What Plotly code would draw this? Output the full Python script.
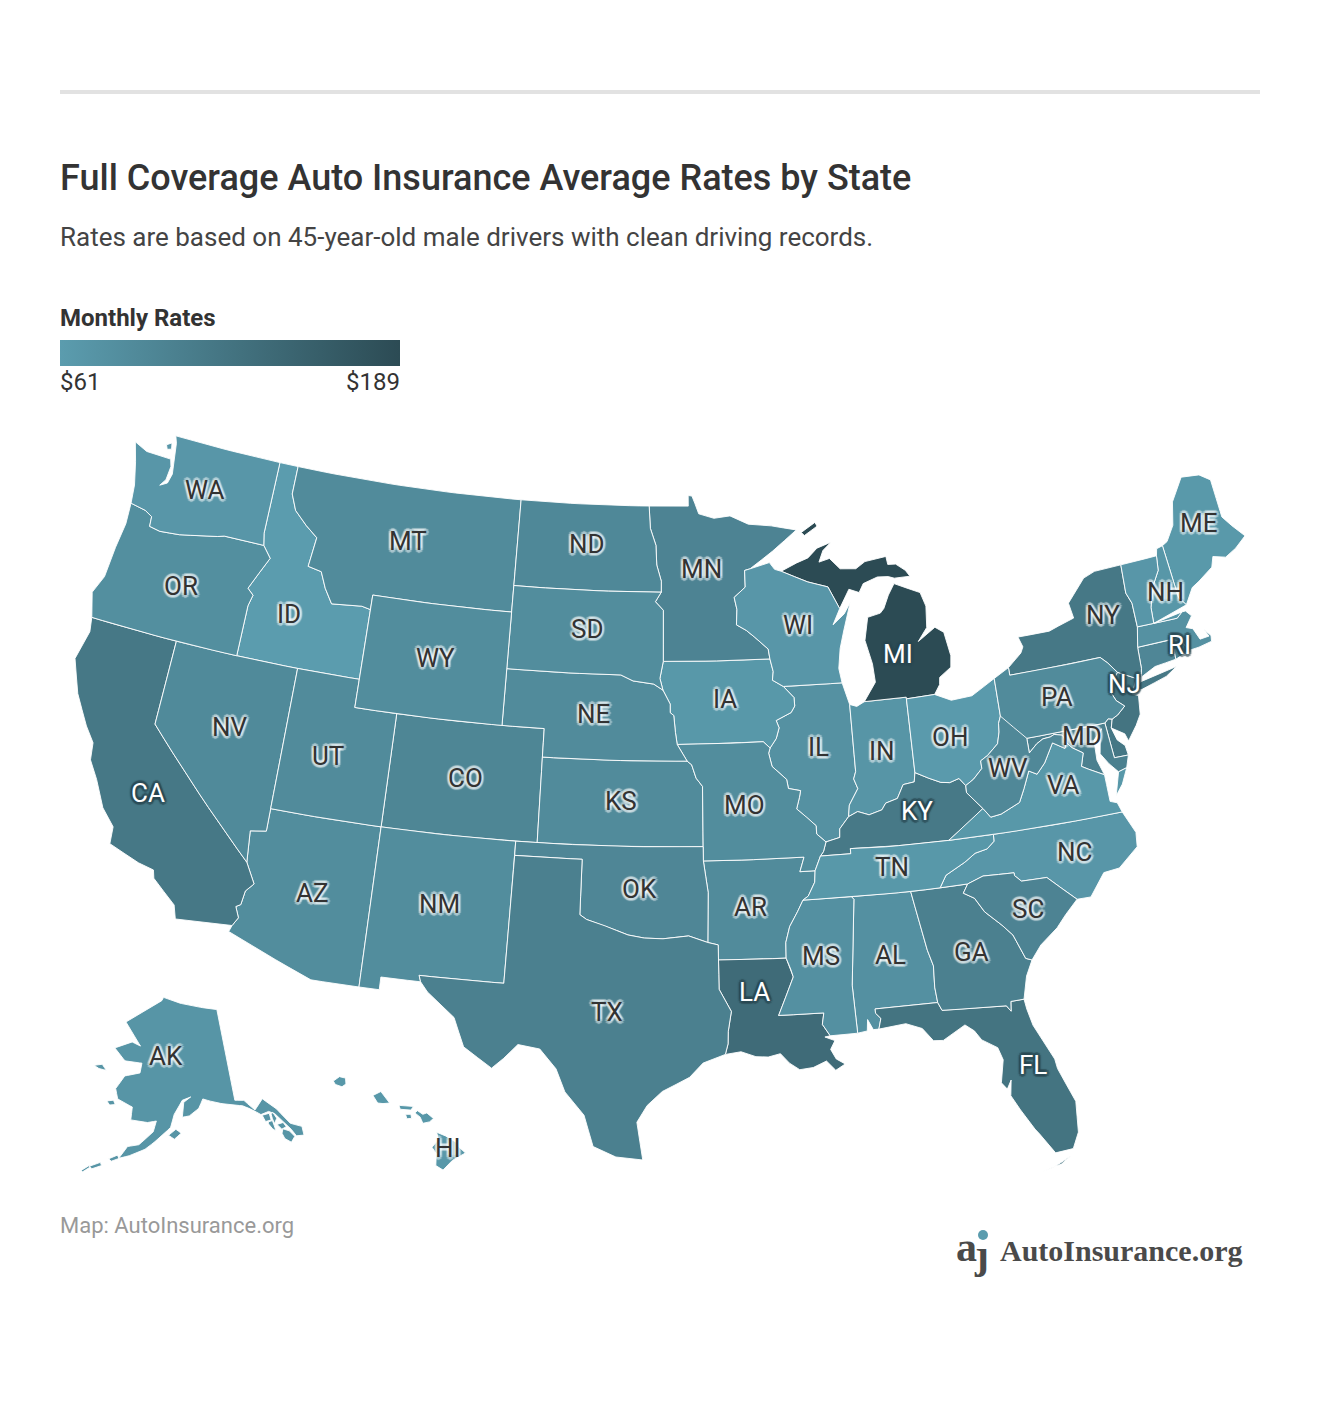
import math
import plotly.graph_objects as go

# ---------- data ----------
STATES = ["AL","AK","AZ","AR","CA","CO","CT","DE","FL","GA","HI","ID","IL","IN","IA","KS","KY","LA","ME","MD","MA","MI","MN","MS","MO","MT","NE","NV","NH","NJ","NM","NY","NC","ND","OH","OK","OR","PA","RI","SC","SD","TN","TX","UT","VT","VA","WA","WV","WI","WY"]
RATES  = [80,72,85,88,118,96,95,120,125,105,68,61,78,72,68,88,116,138,66,105,78,189,100,80,85,88,88,90,69,125,85,118,70,93,64,95,82,88,105,100,85,68,105,88,70,68,70,92,70,85]
LABEL_X = [890,166,312,750,148,465,None,None,1033,971,448,289,818,882,725,621,917,754,1198,1082,None,898,701,821,744,408,593,230,1165,1124,439,1103,1074,587,950,639,181,1057,1179,1028,587,892,607,328,None,1063,205,1008,798,435]
LABEL_Y = [955,1056,893,907,793,778,None,None,1065,952,1148,614,747,751,699,801,811,992,523,736,None,654,569,956,805,541,714,727,592,684,904,615,852,544,737,889,586,697,645,909,629,867,1012,756,None,785,490,768,625,658]
WHITE_LABELS = ["CA","KY","LA","FL","MI","NJ","RI"]
TITLE = "Full Coverage Auto Insurance Average Rates by State"
SUBTITLE = "Rates are based on 45-year-old male drivers with clean driving records."
LEGEND_TITLE = "Monthly Rates"
LEGEND_MIN = "$61"
LEGEND_MAX = "$189"
SOURCE = "Map: AutoInsurance.org"
COLOR_LOW = (91, 156, 174)
COLOR_HIGH = (44, 75, 84)
ZMIN, ZMAX = 61, 189

# ---------- estimated state outlines (lon, lat): shared border chains ----------
def rv(c): return c[::-1]
MN_WI=[(-92.01,46.71),(-92.29,46.66),(-92.29,46.07),(-92.87,45.72),(-92.75,45.29),(-92.80,44.75),(-92.32,44.54),(-91.92,44.29),(-91.28,43.85),(-91.22,43.50)]
WI_IA=[(-91.22,43.50),(-91.09,43.05),(-91.15,42.75),(-90.64,42.51)]
IA_IL=[(-90.64,42.51),(-90.16,42.10),(-90.15,41.80),(-90.34,41.58),(-91.07,41.33),(-90.95,41.07),(-91.11,40.70),(-91.42,40.38)]
MO_IL=[(-91.42,40.38),(-91.50,40.20),(-91.37,39.73),(-90.73,39.25),(-90.67,38.93),(-90.12,38.83),(-90.19,38.60),(-90.35,38.20),(-89.91,37.88),(-89.52,37.57),(-89.52,37.28),(-89.13,36.98)]
KY_MO=[(-89.13,36.98),(-89.27,36.65),(-89.42,36.50)]
TN_MO=[(-89.42,36.50),(-89.70,36.00)]
TN_AR=[(-89.70,36.00),(-89.75,35.60),(-90.07,35.13),(-90.31,35.00)]
MS_AR=[(-90.31,35.00),(-90.58,34.60),(-90.95,34.10),(-91.15,33.55),(-91.17,33.00)]
MS_LA=[(-91.17,33.00),(-91.00,32.60),(-90.91,32.33),(-91.60,31.00),(-89.73,31.00),(-89.82,30.60),(-89.53,30.18)]
OH_WV=[(-80.52,40.64),(-80.66,40.40),(-80.70,40.10),(-80.86,39.70),(-81.40,39.35),(-81.75,39.20),(-81.75,38.93),(-82.20,38.60),(-82.59,38.42)]
OH_KY=[(-82.59,38.42),(-82.85,38.70),(-83.30,38.60),(-83.70,38.65),(-84.23,38.85),(-84.82,39.10)]
IN_KY=[(-84.82,39.10),(-84.90,38.78),(-85.42,38.73),(-85.75,38.27),(-86.30,38.15),(-86.50,37.93),(-87.10,37.80),(-87.60,37.95),(-88.03,37.80)]
IL_KY=[(-88.03,37.80),(-88.47,37.40),(-88.50,37.10),(-89.13,36.98)]
WV_KY=[(-82.59,38.42),(-82.60,38.17),(-81.97,37.54)]
KY_VA=[(-81.97,37.54),(-82.72,37.12),(-83.68,36.60)]
KY_TN=[(-83.68,36.60),(-86.50,36.63),(-88.07,36.68),(-88.07,36.50),(-89.42,36.50)]
VA_TN=[(-83.68,36.60),(-81.68,36.59)]
VA_NC=[(-81.68,36.59),(-75.87,36.55)]
TN_NC=[(-81.68,36.59),(-81.70,36.35),(-82.05,36.12),(-82.60,36.03),(-83.10,35.77),(-84.00,35.40),(-84.32,34.99)]
TN_GA=[(-84.32,34.99),(-85.61,34.98)]
TN_AL=[(-85.61,34.98),(-88.20,35.00)]
TN_MS=[(-88.20,35.00),(-90.31,35.00)]
NC_GA=[(-84.32,34.99),(-83.11,35.00)]
NC_SC=[(-83.11,35.00),(-82.40,35.20),(-81.04,35.15),(-81.04,35.05),(-80.78,34.82),(-79.67,34.80),(-78.55,33.86)]
SC_GA=[(-83.11,35.00),(-83.35,34.70),(-82.90,34.47),(-82.55,33.95),(-81.90,33.40),(-81.50,33.00),(-81.12,32.12),(-80.87,32.03)]
GA_AL=[(-85.61,34.98),(-85.18,32.87),(-85.00,32.30),(-85.05,31.55),(-85.00,31.00)]
GA_FL=[(-85.00,31.00),(-84.86,30.71),(-82.21,30.57),(-82.05,30.36),(-82.00,30.70),(-81.45,30.71)]
AL_FL=[(-85.00,31.00),(-87.60,31.00),(-87.60,30.85),(-87.40,30.65),(-87.52,30.28)]
AL_MS=[(-88.20,35.00),(-88.10,34.90),(-88.47,31.90),(-88.40,30.20)]
AR_MO=[(-89.70,36.00),(-90.37,36.00),(-90.15,36.50),(-94.62,36.50)]
AR_OK=[(-94.62,36.50),(-94.43,35.39),(-94.48,33.64)]
AR_TX=[(-94.48,33.64),(-94.04,33.55),(-94.04,33.02)]
AR_LA=[(-94.04,33.02),(-91.17,33.00)]
LA_TX=[(-94.04,33.02),(-94.04,31.99),(-93.55,31.20),(-93.70,30.50),(-93.72,30.06),(-93.84,29.69)]
OK_TX=[(-94.48,33.64),(-95.30,33.88),(-96.40,33.78),(-97.20,33.80),(-97.90,33.90),(-98.90,34.20),(-99.70,34.40),(-100.00,34.56),(-100.00,36.50),(-103.00,36.50)]
OK_NM=[(-103.00,36.50),(-103.00,37.00)]
NM_TX=[(-103.00,36.50),(-103.06,32.00),(-106.62,32.00),(-106.53,31.78)]
OK_MO=[(-94.62,36.50),(-94.62,37.00)]
OK_KS=[(-94.62,37.00),(-102.04,37.00)]
OK_CO=[(-102.04,37.00),(-103.00,37.00)]
KS_MO=[(-94.62,37.00),(-94.61,39.11),(-94.90,39.40),(-95.10,39.87),(-95.31,40.00)]
NE_KS=[(-95.31,40.00),(-102.05,40.00)]
KS_CO=[(-102.05,40.00),(-102.04,37.00)]
NE_MO=[(-95.31,40.00),(-95.77,40.585)]
NE_IA=[(-95.77,40.585),(-95.85,41.00),(-95.93,41.60),(-96.10,41.70),(-96.10,42.00),(-96.45,42.49)]
MO_IA=[(-95.77,40.585),(-91.73,40.61),(-91.42,40.38)]
IA_SD=[(-96.45,42.49),(-96.60,42.90),(-96.44,43.50)]
IA_MN=[(-96.44,43.50),(-91.22,43.50)]
MN_SD=[(-96.44,43.50),(-96.45,45.30),(-96.85,45.60),(-96.56,45.94)]
MN_ND=[(-96.56,45.94),(-96.56,46.33),(-96.80,46.90),(-96.85,47.60),(-97.15,48.20),(-97.23,49.00)]
ND_SD=[(-96.56,45.94),(-104.05,45.94)]
NE_SD=[(-96.45,42.49),(-96.90,42.70),(-97.90,42.80),(-98.50,43.00),(-104.05,43.00)]
NE_CO=[(-104.05,41.00),(-102.05,41.00),(-102.05,40.00)]
WY_CO=[(-104.05,41.00),(-109.05,41.00)]
WY_UT=[(-109.05,41.00),(-111.05,41.00),(-111.05,42.00)]
CO_NM=[(-103.00,37.00),(-109.05,37.00)]
UT_AZ=[(-109.05,37.00),(-114.05,37.00)]
NV_AZ=[(-114.05,37.00),(-114.05,36.20),(-114.75,36.10),(-114.63,35.00)]
CA_AZ=[(-114.63,35.00),(-114.14,34.30),(-114.45,34.00),(-114.53,33.50),(-114.72,33.40),(-114.52,33.03),(-114.72,32.72)]
NV_CA=[(-120.00,42.00),(-120.00,39.00),(-114.63,35.00)]
OR_ID=[(-117.03,42.00),(-117.03,43.80),(-116.90,44.20),(-117.22,44.40),(-116.85,45.00),(-116.46,45.60),(-116.92,46.00)]
WA_ID=[(-116.92,46.00),(-117.04,46.42),(-117.04,49.00)]
WA_OR=[(-116.92,46.00),(-118.98,46.00),(-119.30,45.93),(-120.65,45.73),(-121.20,45.65),(-122.20,45.58),(-122.76,45.65),(-122.80,46.00),(-123.20,46.15),(-124.00,46.25)]
ID_MT=[(-116.05,49.00),(-116.05,48.00),(-115.70,47.45),(-115.00,47.00),(-114.35,46.65),(-114.50,45.60),(-113.80,45.50),(-113.45,44.95),(-113.00,44.45),(-111.50,44.55),(-111.05,44.48)]
IL_IN=[(-87.53,41.71),(-87.53,39.35),(-87.65,39.10),(-87.50,38.75),(-87.95,38.20),(-88.03,37.80)]
WV_VA=[(-81.97,37.54),(-81.68,37.20),(-81.20,37.25),(-80.30,37.55),(-80.00,38.00),(-79.65,38.58),(-79.30,38.42),(-78.87,38.76),(-78.35,39.40),(-77.83,39.13),(-77.72,39.32)]
MD_WV=[(-79.48,39.72),(-79.48,39.20),(-79.07,39.47),(-78.75,39.60),(-78.40,39.62),(-78.20,39.68),(-77.83,39.60),(-77.72,39.32)]
MD_VA=[(-77.72,39.32),(-77.50,39.10),(-77.05,38.85),(-77.25,38.40),(-76.95,38.25),(-76.30,37.95)]
DE_MD=[(-75.79,39.72),(-75.70,38.46),(-75.05,38.45)]
DE_PA=[(-75.79,39.72),(-75.60,39.84),(-75.42,39.80)]
PA_NJ=[(-75.42,39.80),(-75.13,39.90),(-74.72,40.15),(-75.05,40.40),(-75.20,40.70),(-75.10,41.00),(-74.70,41.36)]
PA_NY=[(-74.70,41.36),(-75.05,41.75),(-75.35,42.00),(-79.76,42.00),(-79.76,42.27)]
NY_CT=[(-73.66,41.00),(-73.55,41.30),(-73.49,42.05)]
NY_MA=[(-73.49,42.05),(-73.27,42.75)]
NY_VT=[(-73.27,42.75),(-73.25,43.60),(-73.43,44.00),(-73.34,45.01)]
VT_NH=[(-72.46,42.73),(-72.40,43.30),(-72.05,44.00),(-71.60,44.50),(-71.50,45.01)]
RI_MA=[(-71.80,42.02),(-71.38,42.02),(-71.33,41.78),(-71.12,41.50)]
MA_NH=[(-70.82,42.87),(-71.00,42.87),(-71.30,42.70),(-72.46,42.73)]
NH_ME=[(-70.70,43.07),(-70.98,43.40),(-71.08,45.30)]
MI_WI=[(-90.42,46.57),(-89.10,46.13),(-88.10,45.90),(-87.60,45.10)]

WA_COAST=[(-117.04,49.00),(-122.76,49.00),(-122.62,48.75),(-122.50,48.25),(-122.38,47.65),(-122.50,47.30),(-122.85,47.15),(-122.62,47.40),(-122.56,47.90),(-122.68,48.15),(-123.15,48.15),(-124.00,48.17),(-124.72,48.38),(-124.40,47.70),(-124.10,46.90),(-124.00,46.25)]
SAN_JUAN=[(-123.10,48.60),(-122.85,48.72),(-122.78,48.50),(-123.00,48.45)]
OR_COAST=[(-124.00,46.25),(-123.95,45.50),(-124.10,44.60),(-124.20,43.50),(-124.55,42.85),(-124.21,42.00)]
CA_COAST=[(-124.21,42.00),(-124.10,41.50),(-124.40,40.45),(-123.80,39.30),(-123.00,38.30),(-122.50,37.80),(-122.40,37.20),(-121.90,36.60),(-121.30,35.70),(-120.65,35.15),(-120.60,34.55),(-119.20,34.15),(-118.50,34.03),(-118.40,33.75),(-117.30,33.00),(-117.12,32.53),(-114.72,32.72)]
AZ_SOUTH=[(-114.72,32.72),(-114.81,32.49),(-111.07,31.33),(-109.05,31.33)]
NM_SOUTH=[(-109.05,31.33),(-108.20,31.33),(-108.20,31.78),(-106.53,31.78)]
TX_SOUTH=[(-106.53,31.78),(-106.20,31.45),(-105.00,30.65),(-104.50,29.65),(-103.30,28.98),(-102.85,29.35),(-102.30,29.88),(-101.40,29.77),(-100.70,29.10),(-100.30,28.30),(-99.50,27.50),(-99.10,26.40),(-98.20,26.05),(-97.15,25.96),(-97.40,27.30),(-97.00,27.90),(-96.40,28.40),(-95.30,28.90),(-94.75,29.40),(-93.84,29.69)]
LA_COAST=[(-93.84,29.69),(-93.20,29.77),(-92.60,29.58),(-92.10,29.55),(-91.60,29.65),(-91.25,29.30),(-90.85,29.05),(-90.30,29.10),(-90.05,29.20),(-89.75,29.30),(-89.40,28.95),(-89.00,29.15),(-89.35,29.35),(-89.55,29.70),(-89.35,30.00),(-89.60,30.10),(-89.75,30.15),(-89.53,30.18)]
AL_COAST=[(-88.40,30.20),(-88.00,30.25),(-87.95,30.65),(-87.75,30.28),(-87.52,30.28)]
FL_COAST=[(-87.52,30.28),(-86.40,30.38),(-85.75,30.15),(-85.35,29.68),(-84.95,29.65),(-84.35,29.95),(-84.00,30.10),(-83.65,29.85),(-83.40,29.50),(-82.80,29.15),(-82.65,28.70),(-82.85,27.90),(-82.65,27.65),(-82.45,27.95),(-82.55,27.40),(-82.25,26.85),(-82.10,26.60),(-81.80,26.10),(-81.65,25.90),(-81.15,25.15),(-80.45,25.20),(-80.15,25.75),(-80.05,26.85),(-80.55,28.10),(-80.60,28.45),(-81.25,29.75),(-81.40,30.35),(-81.45,30.71)]
FL_KEYS=[(-81.80,24.55),(-81.30,24.65),(-80.60,24.95),(-81.00,24.72)]
GA_COAST=[(-81.45,30.71),(-81.20,31.50),(-80.87,32.03)]
SC_COAST=[(-80.87,32.03),(-80.40,32.50),(-79.60,33.00),(-79.15,33.40),(-78.55,33.86)]
NC_COAST=[(-78.55,33.86),(-77.95,33.85),(-77.20,34.60),(-76.50,34.65),(-75.55,35.25),(-75.47,35.75),(-75.87,36.55)]
VA_COAST=[(-75.87,36.55),(-76.00,36.90),(-76.30,37.00),(-76.30,37.60),(-76.30,37.95)]
VA_SHORE=[(-75.98,37.15),(-75.65,37.95),(-75.25,38.03),(-75.60,37.50)]
MD_BAY=[(-75.05,38.45),(-75.25,38.03),(-75.65,37.95),(-76.00,38.30),(-76.30,38.70),(-76.10,39.40),(-76.00,39.55),(-76.45,39.20),(-76.50,38.50),(-76.40,38.20),(-76.30,37.95)]
DE_COAST=[(-75.42,39.80),(-75.55,39.50),(-75.40,39.05),(-75.10,38.80),(-75.05,38.45)]
NJ_COAST=[(-73.90,41.00),(-74.25,40.50),(-73.98,40.40),(-74.10,39.75),(-74.40,39.40),(-74.90,38.93),(-75.00,39.20),(-75.55,39.50),(-75.42,39.80)]
NY_LAKES=[(-79.76,42.27),(-79.05,42.70),(-78.90,42.90),(-79.05,43.27),(-77.50,43.27),(-76.50,43.50),(-76.20,43.55),(-76.30,44.10),(-75.30,44.85),(-74.70,45.00),(-73.34,45.01)]
LONG_ISLAND=[(-74.03,40.60),(-73.75,40.58),(-72.50,40.82),(-71.90,41.07),(-72.60,40.98),(-73.20,40.92),(-73.75,40.85)]
CT_COAST=[(-73.66,41.00),(-72.90,41.25),(-71.86,41.32)]
MA_COAST=[(-71.12,41.50),(-70.65,41.52),(-70.00,41.60),(-69.95,41.80),(-70.20,42.08),(-70.05,41.80),(-70.50,41.78),(-70.70,42.20),(-71.00,42.30),(-70.60,42.65),(-70.82,42.87)]
ME_COAST=[(-70.70,43.07),(-70.20,43.60),(-69.80,43.75),(-69.00,44.10),(-68.80,44.45),(-68.20,44.30),(-67.60,44.50),(-66.97,44.82),(-67.45,45.30),(-67.80,45.70),(-67.80,47.07),(-68.30,47.36),(-69.05,47.45),(-69.22,47.46),(-70.00,46.70),(-70.30,45.90),(-70.80,45.40),(-71.08,45.30)]
MI_LOWER=[(-86.82,41.76),(-84.81,41.76),(-84.81,41.70),(-83.45,41.73),(-83.15,42.05),(-83.10,42.30),(-82.50,42.60),(-82.42,43.00),(-82.60,43.85),(-83.00,44.07),(-83.90,43.65),(-83.40,44.10),(-83.30,44.85),(-83.50,45.35),(-84.75,45.78),(-85.10,45.40),(-85.40,44.95),(-85.60,44.80),(-86.25,44.70),(-86.50,43.90),(-86.25,43.05),(-86.20,42.40)]
MI_UPPER=[(-90.42,46.57),(-89.60,46.83),(-89.00,46.98),(-88.50,47.30),(-87.75,47.47),(-88.20,47.20),(-88.45,46.80),(-87.90,46.90),(-87.40,46.50),(-86.60,46.45),(-86.10,46.67),(-85.00,46.77),(-84.95,46.48),(-84.55,46.46),(-84.10,46.20),(-83.90,45.97),(-84.70,45.97),(-85.00,46.05),(-85.55,46.08),(-86.30,45.90),(-86.55,45.60),(-87.05,45.75),(-87.60,45.10)]
ISLE_ROYALE=[(-89.25,47.90),(-88.50,48.22),(-88.40,48.08),(-89.10,47.78)]
WI_LAKES=[(-87.60,45.10),(-88.00,44.55),(-87.40,44.90),(-87.05,45.28),(-87.50,44.30),(-87.75,43.70),(-87.90,43.00),(-87.80,42.49)]
WI_TOP=[(-92.01,46.71),(-91.00,46.90),(-90.75,46.65),(-90.42,46.57)]
MN_TOP=[(-97.23,49.00),(-95.15,49.00),(-95.15,49.38),(-94.95,49.36),(-94.80,49.10),(-94.60,48.72),(-93.80,48.55),(-92.95,48.62),(-92.00,48.30),(-90.80,48.20),(-89.50,48.00),(-90.80,47.30),(-92.01,46.71)]
AK_MAIN=[(-141.0,69.65),(-141.0,60.3),(-139.2,60.1),(-137.5,58.9),(-135.5,59.8),(-134.0,58.8),(-133.4,58.4),(-131.8,56.6),(-130.0,55.9),(-130.2,55.0),(-131.5,55.2),(-132.0,56.0),(-133.0,57.0),(-134.0,58.0),(-135.0,58.4),(-136.6,58.3),(-138.0,59.0),(-139.7,59.6),(-142.5,60.0),(-145.0,60.4),(-147.5,60.9),(-148.5,60.0),(-150.5,59.3),(-151.9,59.2),(-151.5,60.7),(-150.0,61.2),(-151.8,60.9),(-153.5,59.5),(-154.2,58.2),(-156.5,57.0),(-158.8,55.9),(-161.5,55.1),(-163.3,54.7),(-162.0,56.0),(-160.0,56.3),(-157.5,57.7),(-157.0,58.8),(-158.7,58.6),(-162.0,58.7),(-162.0,60.0),(-165.2,60.6),(-166.0,61.6),(-164.5,63.0),(-161.2,63.5),(-161.0,64.5),(-165.0,64.5),(-168.0,65.6),(-164.0,66.5),(-161.8,66.2),(-163.8,67.2),(-166.5,68.4),(-163.0,69.5),(-157.0,71.0),(-156.5,71.35),(-152.0,70.8),(-146.0,70.2)]
AK_POW=[(-133.4,56.3),(-132.4,55.9),(-131.8,55.2),(-132.7,54.75),(-133.6,55.3),(-133.8,55.9)]
AK_KUPREANOF=[(-134.2,56.9),(-133.0,56.9),(-132.7,56.4),(-133.6,56.3)]
AK_ADMIRALTY=[(-134.7,58.1),(-134.3,58.2),(-133.9,57.5),(-134.6,57.05),(-134.7,57.6)]
AK_BARANOF=[(-135.6,57.4),(-134.8,57.4),(-134.7,56.3),(-135.2,56.6),(-135.7,57.2)]
AK_CHICHAGOF=[(-136.4,58.2),(-135.0,58.2),(-135.0,57.5),(-136.1,57.5)]
AK_KODIAK=[(-154.6,57.4),(-153.2,58.0),(-152.2,57.6),(-153.5,57.0)]
AK_NUNIVAK=[(-167.3,60.2),(-166.0,60.4),(-165.5,60.0),(-166.6,59.85)]
AK_STLAWRENCE=[(-171.7,63.4),(-170.0,63.7),(-168.8,63.2),(-170.5,63.2)]
AK_UNIMAK=[(-165.0,54.5),(-163.6,55.0),(-163.2,54.7),(-164.5,54.3)]
AK_UNALASKA=[(-168.0,53.4),(-166.3,54.0),(-166.0,53.7),(-167.5,53.2)]
AK_UMNAK=[(-169.2,52.8),(-168.0,53.5),(-167.9,53.3),(-168.9,52.7)]
HI_BIG=[(-155.88,20.26),(-155.55,20.13),(-155.10,19.87),(-155.05,19.73),(-154.81,19.52),(-155.30,19.26),(-155.65,18.92),(-155.92,19.08),(-155.90,19.50),(-156.06,19.73),(-155.82,20.00)]
HI_MAUI=[(-156.70,20.95),(-156.60,21.03),(-156.40,20.90),(-156.25,20.95),(-156.00,20.75),(-156.15,20.63),(-156.40,20.58),(-156.50,20.80)]
HI_LANAI=[(-157.05,20.90),(-156.85,20.90),(-156.82,20.76),(-157.00,20.74)]
HI_MOLOKAI=[(-157.30,21.22),(-156.75,21.18),(-156.85,21.05),(-157.25,21.08)]
HI_OAHU=[(-158.28,21.57),(-157.98,21.71),(-157.65,21.30),(-157.90,21.28),(-158.10,21.30)]
HI_KAUAI=[(-159.78,22.07),(-159.55,22.23),(-159.32,22.18),(-159.30,21.97),(-159.45,21.87),(-159.70,21.95)]

SHAPES = {
"WA":[WA_COAST+rv(WA_OR)+WA_ID, SAN_JUAN],
"OR":[OR_COAST+[(-120.00,42.00),(-117.03,42.00)]+OR_ID+WA_OR],
"CA":[CA_COAST+rv(CA_AZ)+rv(NV_CA)],
"NV":[[(-117.03,42.00),(-114.05,42.00)]+NV_AZ+rv(NV_CA)],
"ID":[[(-117.04,49.00)]+ID_MT+[(-111.05,42.00),(-114.05,42.00),(-117.03,42.00)]+OR_ID+WA_ID[:-1]],
"MT":[ID_MT+[(-111.05,45.00),(-104.05,45.00),(-104.05,49.00)]],
"WY":[[(-111.05,45.00),(-104.05,45.00),(-104.05,41.00)]+WY_CO+WY_UT[1:]+[(-111.05,44.48)]],
"UT":[[(-114.05,42.00),(-111.05,42.00),(-111.05,41.00),(-109.05,41.00),(-109.05,37.00),(-114.05,37.00)]],
"CO":[[(-109.05,41.00),(-102.05,41.00),(-102.05,40.00),(-102.04,37.00),(-109.05,37.00)]],
"AZ":[UT_AZ+NV_AZ[1:]+CA_AZ[1:]+AZ_SOUTH[1:]],
"NM":[rv(CO_NM)+rv(OK_NM)[1:]+NM_TX[1:]+rv(NM_SOUTH)[1:]],
"ND":[[(-104.05,49.00)]+rv(MN_ND)+[(-104.05,45.94)]],
"SD":[ND_SD+[(-104.05,43.00)]+rv(NE_SD)+IA_SD[1:]+MN_SD[1:]],
"NE":[NE_SD+NE_CO+rv(NE_KS)+NE_MO[1:]+NE_IA[1:]],
"KS":[NE_KS+KS_CO[1:]+rv(OK_KS)+KS_MO[1:]],
"OK":[OK_KS+OK_CO[1:]+rv(OK_NM)[1:]+rv(OK_TX)+rv(AR_OK)[1:]+OK_MO[1:]],
"TX":[OK_TX+NM_TX[1:]+TX_SOUTH[1:]+rv(LA_TX)[1:]+rv(AR_TX)[1:]],
"MN":[MN_TOP+MN_WI[1:]+rv(IA_MN)[1:]+MN_SD[1:]+MN_ND[1:]],
"IA":[IA_MN+WI_IA[1:]+IA_IL[1:]+rv(MO_IA)[1:]+NE_IA[1:]+IA_SD[1:]],
"MO":[MO_IA+MO_IL[1:]+KY_MO[1:]+TN_MO[1:]+AR_MO[1:]+OK_MO[1:]+KS_MO[1:]+NE_MO[1:]],
"AR":[AR_MO+AR_OK[1:]+AR_TX[1:]+AR_LA[1:]+rv(MS_AR)[1:]+rv(TN_AR)[1:]],
"LA":[AR_LA+MS_LA[1:]+rv(LA_COAST)[1:]+rv(LA_TX)[1:]],
"WI":[WI_TOP+MI_WI[1:]+WI_LAKES[1:]+[(-90.64,42.51)]+rv(WI_IA)[1:]+rv(MN_WI)[1:]],
"IL":[[(-87.80,42.49),(-87.60,41.85)]+IL_IN+IL_KY[1:]+rv(MO_IL)[1:]+rv(IA_IL)[1:]],
"IN":[[(-87.53,41.71),(-87.20,41.62),(-86.82,41.76),(-84.81,41.76),(-84.81,41.70),(-84.82,39.10)]+IN_KY[1:]+rv(IL_IN)[1:]],
"MI":[MI_LOWER, MI_UPPER+rv(MI_WI)[1:], ISLE_ROYALE],
"OH":[[(-84.81,41.70),(-83.45,41.73),(-82.70,41.45),(-81.70,41.50),(-80.52,41.98)]+OH_WV+OH_KY[1:]],
"KY":[OH_KY+IN_KY[1:]+IL_KY[1:]+KY_MO[1:]+rv(KY_TN)[1:]+rv(KY_VA)[1:]+rv(WV_KY)[1:]],
"TN":[KY_TN+TN_MO[1:]+TN_AR[1:]+rv(TN_MS)[1:]+rv(TN_AL)[1:]+rv(TN_GA)[1:]+rv(TN_NC)[1:]+rv(VA_TN)[1:]],
"MS":[TN_MS+MS_AR[1:]+MS_LA[1:]+rv(AL_MS)],
"AL":[TN_AL+AL_MS[1:]+AL_COAST[1:]+rv(AL_FL)[1:]+rv(GA_AL)[1:]],
"GA":[TN_GA+GA_AL[1:]+GA_FL[1:]+GA_COAST[1:]+rv(SC_GA)[1:]+rv(NC_GA)[1:]],
"FL":[AL_FL+FL_COAST[1:]+rv(GA_FL)[1:], FL_KEYS],
"SC":[NC_SC+rv(SC_COAST)[1:]+rv(SC_GA)[1:]],
"NC":[VA_NC+rv(NC_COAST)[1:]+rv(NC_SC)[1:]+rv(NC_GA)[1:]+rv(TN_NC)[1:]],
"VA":[VA_TN+VA_NC[1:]+VA_COAST[1:]+rv(MD_VA)[1:]+rv(WV_VA)[1:]+KY_VA[1:], VA_SHORE],
"WV":[OH_WV+WV_KY[1:]+WV_VA[1:]+rv(MD_WV)[1:]],
"MD":[[(-79.48,39.72),(-75.79,39.72)]+DE_MD[1:]+MD_BAY[1:]+rv(MD_VA)[1:]+rv(MD_WV)[1:]],
"DE":[DE_PA+DE_COAST[1:]+rv(DE_MD)[1:]],
"PA":[[(-80.52,41.98),(-79.76,42.27)]+rv(PA_NY)[1:]+rv(PA_NJ)[1:]+rv(DE_PA)[1:]+[(-80.52,39.72),(-80.52,40.64)]],
"NJ":[PA_NJ+NJ_COAST],
"NY":[NY_LAKES+rv(NY_VT)[1:]+rv(NY_MA)[1:]+rv(NY_CT)[1:]+[(-73.90,41.00),(-74.70,41.36)]+PA_NY[1:], LONG_ISLAND],
"CT":[CT_COAST+[(-71.80,42.02),(-73.49,42.05)]+rv(NY_CT)[1:]],
"RI":[[(-71.86,41.32),(-71.40,41.45)]+rv(RI_MA)],
"MA":[[(-73.49,42.05)]+RI_MA+MA_COAST[1:]+MA_NH[1:]+[(-73.27,42.75)]],
"VT":[[(-73.27,42.75)]+VT_NH+rv(NY_VT)[:-1]],
"NH":[VT_NH+[(-71.40,45.25)]+rv(NH_ME)+rv(MA_NH)[:-1]],
"ME":[ME_COAST+rv(NH_ME)[:-1]],
"AK":[AK_MAIN,AK_POW,AK_KUPREANOF,AK_ADMIRALTY,AK_BARANOF,AK_CHICHAGOF,AK_KODIAK,AK_NUNIVAK,AK_STLAWRENCE,AK_UNIMAK,AK_UNALASKA,AK_UMNAK],
"HI":[HI_BIG,HI_MAUI,HI_LANAI,HI_MOLOKAI,HI_OAHU,HI_KAUAI],
}

# ---------- Albers USA projection (the reference's map projection) ----------
def conic(rot, c_lam, c_phi, p0, p1):
    s0, s1 = math.sin(math.radians(p0)), math.sin(math.radians(p1))
    n = (s0+s1)/2
    c = 1+s0*(2*n-s0)
    r0 = math.sqrt(c)/n
    def raw(lam, phi):
        r = math.sqrt(c-2*n*math.sin(math.radians(phi)))/n
        a = math.radians(lam)*n
        return r*math.sin(a), r0-r*math.cos(a)
    cx, cy = raw(c_lam, c_phi)
    return lambda lon, lat: (raw(lon+rot, lat)[0]-cx, raw(lon+rot, lat)[1]-cy)

LOWER48 = conic(96, -0.6, 38.7, 29.5, 45.5)
ALASKA = conic(154, -2, 58.5, 55, 65)
HAWAII = conic(157, -3, 19.9, 8, 18)

MAP_LEFT, MAP_RIGHT, MAP_BOTTOM = 75, 1245, 1160   # px of CA's cape, ME's tip, TX's tip
K = (MAP_RIGHT-MAP_LEFT)/(LOWER48(-66.97,44.82)[0]-LOWER48(-124.40,40.45)[0])
TX0 = MAP_LEFT-K*LOWER48(-124.40,40.45)[0]
TY0 = MAP_BOTTOM+K*LOWER48(-97.15,25.96)[1]

def project(state, lon, lat):
    if state == "AK":
        a, b = ALASKA(lon, lat)
        return TX0-0.307*K+0.35*K*a, TY0+0.201*K-0.35*K*b
    if state == "HI":
        a, b = HAWAII(lon, lat)
        return TX0-0.205*K+K*a, TY0+0.212*K-K*b
    a, b = LOWER48(lon, lat)
    return TX0+K*a, TY0-K*b

def ring(points):
    # close the ring and split long segments so parallels curve
    pts = [p for i, p in enumerate(points) if i == 0 or p != points[i-1]]
    if pts[0] == pts[-1]:
        pts = pts[:-1]
    out = []
    for i, a in enumerate(pts):
        b = pts[(i+1) % len(pts)]
        n = max(1, int(max(abs(a[0]-b[0]), abs(a[1]-b[1])) / 0.5))
        out += [(a[0]+(b[0]-a[0])*k/n, a[1]+(b[1]-a[1])*k/n) for k in range(n)]
    out.append(out[0])
    return out

def shade(v):
    t = (v-ZMIN)/(ZMAX-ZMIN)
    return "rgb(%d,%d,%d)" % tuple(round(a+(b-a)*t) for a, b in zip(COLOR_LOW, COLOR_HIGH))

COLORSCALE = [[0, "rgb(%d,%d,%d)" % COLOR_LOW], [1, "rgb(%d,%d,%d)" % COLOR_HIGH]]
PAGE_OFFSET = 8            # the page's own body margin
W, H = 1312, 1394

def px(x): return (x-PAGE_OFFSET)/W
def py(y): return 1-(y-PAGE_OFFSET)/H

fig = go.Figure()
for s, v in zip(STATES, RATES):
    xs, ys = [], []
    for r in SHAPES[s]:
        for lon, lat in ring(r):
            x, y = project(s, lon, lat)
            xs.append(x); ys.append(y)
        xs.append(None); ys.append(None)
    fig.add_trace(go.Scatter(x=xs[:-1], y=ys[:-1], mode="lines", fill="toself", fillcolor=shade(v),
                             line=dict(color="white", width=0.9), name=s, showlegend=False,
                             hoverinfo="text", text=f"{s}: ${v}"))
# colour legend, carried by one unseen point on the same scale
fig.add_trace(go.Scatter(x=[660], y=[800], mode="markers", showlegend=False, hoverinfo="skip",
    marker=dict(size=1, opacity=0, color=[ZMIN], cmin=ZMIN, cmax=ZMAX, colorscale=COLORSCALE, showscale=True,
                colorbar=dict(orientation="h", x=px(60), xanchor="left", y=py(366), yanchor="bottom",
                              lenmode="pixels", len=340, thicknessmode="pixels", thickness=26,
                              xpad=0, ypad=0, outlinewidth=0, ticks="", showticklabels=False))))

anns = []
def add(text, x, y, size, color, anchor="left", family="Roboto", weight=None, shadow=None):
    f = dict(family=family, size=size, color=color)
    if weight: f["weight"] = weight
    if shadow: f["shadow"] = shadow
    nudge = {"left": -1, "right": 1, "center": 0}[anchor]
    anns.append(dict(text=text, x=px(x+nudge), y=py(y), xref="paper", yref="paper", xanchor=anchor,
                     yanchor="middle", showarrow=False, font=f, borderpad=0))

def halo(c, r=2.6):
    return ",".join(f"{dx*r}px {dy*r}px 1px {c}" for dx, dy in [(1,0),(-1,0),(0,1),(0,-1),(.7,.7),(-.7,.7),(.7,-.7),(-.7,-.7)])

add(TITLE, 60, 178, 36, "#333333", weight=500)
add(SUBTITLE, 60, 237, 26, "#444444")
add(LEGEND_TITLE, 60, 318, 24, "#333333", weight=700)
add(LEGEND_MIN, 60, 382, 24, "#333333")
add(LEGEND_MAX, 400, 382, 24, "#333333", anchor="right")
add(SOURCE, 60, 1225, 22, "#999999")
add("AutoInsurance.org", 1000, 1250, 30, "#4a4a4a", family="Liberation Serif", weight=700)
add("a", 966, 1247, 42, "#4a4a4a", anchor="center", family="Liberation Serif", weight=700)
add("\u0237", 981, 1254, 42, "#4a4a4a", anchor="center", family="Liberation Serif", weight=700)

for s, x, y in zip(STATES, LABEL_X, LABEL_Y):
    if x is None:
        continue
    if s in WHITE_LABELS:
        add(s, x, y, 26, "#ffffff", anchor="center", shadow=halo("rgba(40,70,80,0.6)"))
    else:
        add(s, x, y, 26, "#333333", anchor="center", shadow=halo("rgba(255,255,255,0.42)"))

fig.update_layout(
    width=W, height=H, margin=dict(l=0, r=0, t=0, b=0), paper_bgcolor="white", plot_bgcolor="white",
    font=dict(family="Roboto"), annotations=anns, showlegend=False,
    xaxis=dict(range=[PAGE_OFFSET, PAGE_OFFSET+W], visible=False, fixedrange=True),
    yaxis=dict(range=[PAGE_OFFSET+H, PAGE_OFFSET], visible=False, fixedrange=True),
    shapes=[
        dict(type="rect", xref="paper", yref="paper", x0=px(60), x1=px(1260), y0=py(94), y1=py(90),
             fillcolor="#e2e2e2", line=dict(width=0)),
        dict(type="circle", xref="paper", yref="paper", x0=px(978), x1=px(988), y0=py(1240), y1=py(1230),
             fillcolor="rgb(91,156,174)", line=dict(width=0)),
    ],
)
fig.write_html("out.html")
